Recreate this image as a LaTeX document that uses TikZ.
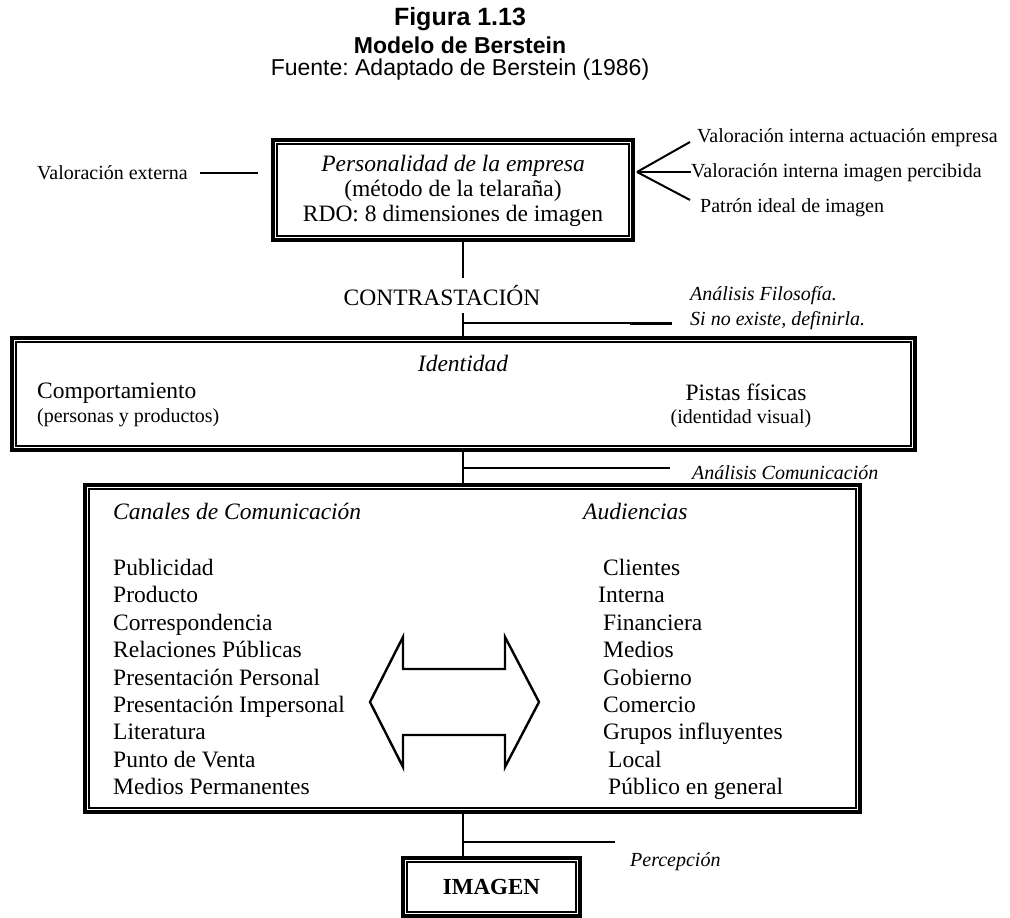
\documentclass[tikz,border=0pt]{standalone}
\usepackage{fontspec}
\setmainfont{Liberation Serif}
\newfontfamily\headfont{Liberation Sans}
\frenchspacing
\begin{document}
\begin{tikzpicture}[x=1pt,y=-1pt,
  frame/.style={draw, line width=3.2pt, inner sep=0pt},
  innerframe/.style={line width=1.6pt},
  conn/.style={line width=2pt},
  side/.style={inner sep=0pt, font=\fontsize{20}{23}\selectfont},
  sideit/.style={inner sep=0pt, font=\fontsize{20}{23}\selectfont\itshape},
  body/.style={inner sep=0pt, font=\fontsize{23.5}{27}\selectfont},
  bodyit/.style={inner sep=0pt, font=\fontsize{23.5}{27}\selectfont\itshape},
  small/.style={inner sep=0pt, font=\fontsize{20}{23}\selectfont},
  listitem/.style={body, anchor=base west},
]
\useasboundingbox (0,0) rectangle (1010,918);

% heading
\node[inner sep=0pt, font=\headfont\bfseries\fontsize{25}{28}\selectfont] (fig) at (460,19) {Figura 1.13};
\node[inner sep=0pt, font=\headfont\bfseries\fontsize{23}{26}\selectfont] (mod) at (460,45) {Modelo de Berstein};
\node[inner sep=0pt, font=\headfont\fontsize{23}{26}\selectfont] (src) at (460,70) {Fuente: Adaptado de Berstein (1986)};

% personality box
\node[frame, minimum width=360pt, minimum height=100pt] (pers) at (453,190) {};
\draw[innerframe] ([shift={(5.5pt,-5.5pt)}]pers.north west) rectangle ([shift={(-5.5pt,5.5pt)}]pers.south east);
\node[bodyit] (persA) at (453,166) {Personalidad de la empresa};
\node[body] (persB) at (453,191) {(método de la telaraña)};
\node[body] (persC) at (453,216) {RDO: 8 dimensiones de imagen};

% external valuation
\node[side, anchor=west] (ext) at (37,173) {Valoración externa};
\coordinate (extA) at (200,173);
\coordinate (extB) at (258,173);
\draw[conn] (extA) -- (extB);

% internal valuations fan
\coordinate (fan) at (637,172);
\node[side, anchor=west] (vi1) at (697,138) {Valoración interna actuación empresa};
\node[side, anchor=west] (vi2) at (691,173) {Valoración interna imagen percibida};
\node[side, anchor=west] (vi3) at (700,208) {Patrón ideal de imagen};
\draw[conn] (fan) -- (690,142);
\draw[conn] (fan) -- (vi2.west |- fan);
\draw[conn] (fan) -- (690,200);

% contrast
\coordinate (c1) at (463,240);
\coordinate (c2) at (463,278);
\draw[conn] (c1) -- (c2);
\node[body] (contr) at (442,296) {CONTRASTACIÓN};
\coordinate (c3) at (463,313);
\coordinate (c4) at (463,338);
\coordinate (c5) at (672,323);
\coordinate (c6) at (630,323);
\draw[conn] (c3) -- (c4);
\draw[conn] (c3 |- c5) -- (c5);
\draw[line width=3pt] (c6) -- (c5);
\node[sideit, anchor=west] (fil1) at (690,296) {Análisis Filosofía.};
\node[sideit, anchor=west] (fil2) at (690,321) {Si no existe, definirla.};

% identity box
\node[frame, minimum width=903pt, minimum height=112pt] (iden) at (463.5,394) {};
\draw[innerframe] ([shift={(5.5pt,-5.5pt)}]iden.north west) rectangle ([shift={(-5.5pt,5.5pt)}]iden.south east);
\node[bodyit] (idt) at (463,363) {Identidad};
\node[body, anchor=west] (comp) at (37,393) {Comportamiento};
\node[small, anchor=west] (compB) at (37,418) {(personas y productos)};
\node[body] (pis) at (746,392) {Pistas físicas};
\node[small] (pisB) at (741,419) {(identidad visual)};

% communication analysis
\coordinate (d1) at (463,450);
\coordinate (d2) at (463,485);
\coordinate (d3) at (670,468);
\draw[conn] (d1) -- (d2);
\draw[conn] (d1 |- d3) -- (d3);
\node[sideit, anchor=west] (acom) at (692,473) {Análisis Comunicación};

% channels and audiences box
\node[frame, minimum width=775pt, minimum height=327pt] (chan) at (472.5,648.5) {};
\draw[innerframe] ([shift={(5.5pt,-5.5pt)}]chan.north west) rectangle ([shift={(-5.5pt,5.5pt)}]chan.south east);
\node[bodyit, anchor=base west] (canh) at (113,519) {Canales de Comunicación};
\node[bodyit, anchor=base west] (audh) at (583,519) {Audiencias};

\node[listitem] (l1) at (113,575.5) {Publicidad};
\node[listitem] (l2) at (113,602.9) {Producto};
\node[listitem] (l3) at (113,630.3) {Correspondencia};
\node[listitem] (l4) at (113,657.7) {Relaciones Públicas};
\node[listitem] (l5) at (113,685.1) {Presentación Personal};
\node[listitem] (l6) at (113,712.5) {Presentación Impersonal};
\node[listitem] (l7) at (113,739.9) {Literatura};
\node[listitem] (l8) at (113,767.3) {Punto de Venta};
\node[listitem] (l9) at (113,794.7) {Medios Permanentes};

\node[listitem] (a1) at (603,575.5) {Clientes};
\node[listitem] (a2) at (598,602.9) {Interna};
\node[listitem] (a3) at (603,630.3) {Financiera};
\node[listitem] (a4) at (603,657.7) {Medios};
\node[listitem] (a5) at (603,685.1) {Gobierno};
\node[listitem] (a6) at (603,712.5) {Comercio};
\node[listitem] (a7) at (603,739.9) {Grupos influyentes};
\node[listitem] (a8) at (608,767.3) {Local};
\node[listitem] (a9) at (608,794.7) {Público en general};

% two-headed block arrow
\draw[line width=2.4pt, line join=miter]
  (370,702) -- (403,637) -- (403,669) -- (505,669) -- (505,637) -- (539,702)
  -- (505,767) -- (505,735) -- (403,735) -- (403,767) -- cycle;

% perception and image
\coordinate (e1) at (463,812);
\coordinate (e2) at (463,858);
\coordinate (e3) at (615,842);
\draw[conn] (e1) -- (e2);
\draw[conn] (e1 |- e3) -- (e3);
\node[sideit, anchor=west] (perc) at (630,862) {Percepción};

\node[frame, minimum width=177pt, minimum height=58pt] (img) at (491.5,887) {};
\draw[innerframe] ([shift={(5.5pt,-5.5pt)}]img.north west) rectangle ([shift={(-5.5pt,5.5pt)}]img.south east);
\node[body, font=\fontsize{23}{26}\selectfont\bfseries] (imgt) at (491.5,887) {IMAGEN};
\end{tikzpicture}
\end{document}
